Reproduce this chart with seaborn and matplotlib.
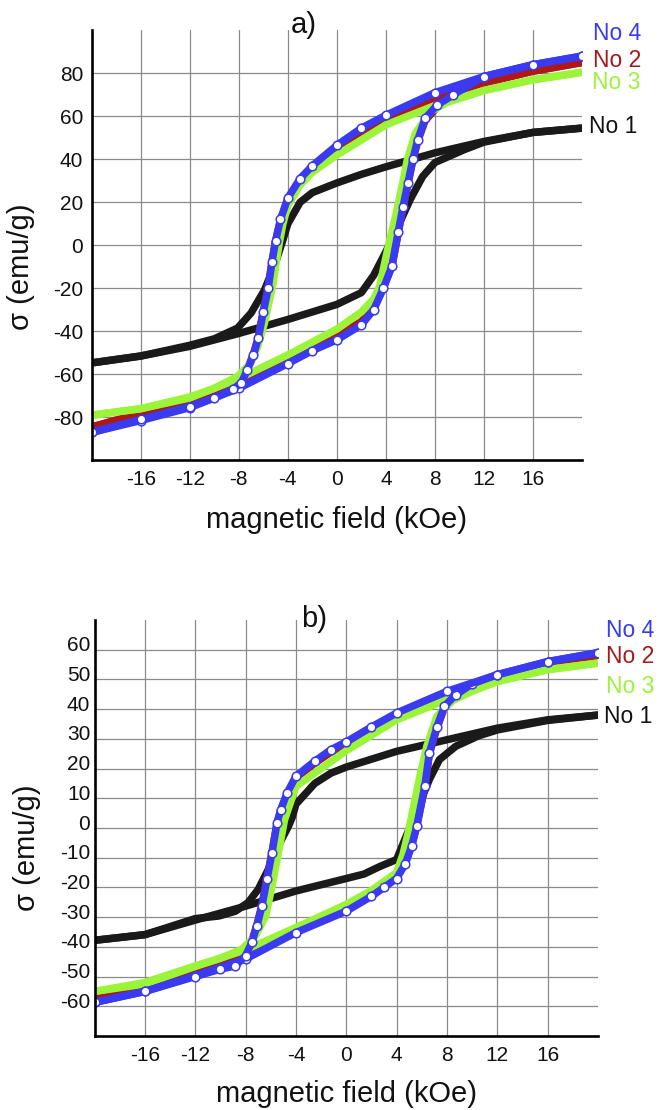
import numpy as np
import pandas as pd
import matplotlib
matplotlib.use("Agg")
import matplotlib.pyplot as plt
from matplotlib.transforms import ScaledTranslation
import seaborn as sns

# ---------------- data ----------------
SAMPLES = ["No 1", "No 2", "No 3", "No 4"]
COLORS = {"No 1": "#1a1a1a", "No 2": "#b01818", "No 3": "#9cf43a", "No 4": "#3a3af0"}
LABEL_COLORS = {"No 1": "#111111", "No 2": "#a01c1c", "No 3": "#9cf43a", "No 4": "#3a3af0"}

# panel a) -- upper (descending field) and lower (ascending field) branches
A_NO4_UP_H = [20, 16, 12, 8, 4, 2, 0, -2, -3, -4, -4.6, -5.0, -5.3, -5.6, -6.0, -6.4, -6.8, -7.3, -7.8, -8.5, -10, -12, -16, -20]
A_NO4_UP_S = [88, 84, 78.5, 71, 60.5, 54.5, 46.5, 37, 31, 22, 12, 2, -8, -20, -31, -43, -51, -58, -64, -67, -71, -75, -81, -87]
A_NO4_LO_H = [-20, -16, -12, -8, -4, -2, 0, 2, 3, 3.8, 4.5, 5.0, 5.4, 5.8, 6.2, 6.6, 7.2, 8.2, 9.5, 12, 16, 20]
A_NO4_LO_S = [-87, -81.5, -75.5, -66.5, -55, -49, -44, -37, -30, -20, -9.6, 6, 18, 29, 40, 49, 59, 65.3, 70, 78.5, 84, 88]

A_NO2_UP_H = [20, 16, 12, 8, 4, 2, 0, -2, -3, -4, -4.6, -5.0, -5.3, -5.6, -6.0, -6.4, -6.8, -7.3, -7.8, -8.5, -10, -12, -16, -20]
A_NO2_UP_S = [85, 81, 75.5, 68.5, 58.5, 52.5, 45, 36, 30, 21, 11.5, 2, -8, -19.5, -30.5, -42.5, -50.5, -57.5, -63, -65.5, -68.5, -72, -78, -84.5]
A_NO2_LO_H = [-20, -16, -12, -8, -4, -2, 0, 2, 3, 3.8, 4.5, 5.0, 5.4, 5.8, 6.2, 6.6, 7.2, 8.2, 9.5, 12, 16, 20]
A_NO2_LO_S = [-84.5, -78.5, -72, -63.5, -53, -47, -42, -35.5, -29, -19.5, -9.5, 5.5, 17.5, 28.5, 39.5, 48.5, 58, 64.3, 68.5, 75.5, 81, 85]

A_NO3_UP_H = [20, 16, 12, 8, 4, 2, 0, -2, -3, -4, -4.4, -4.7, -5.0, -5.2, -5.6, -5.9, -6.45, -7.0, -8.1, -10, -12, -16, -20]
A_NO3_UP_S = [80.5, 77, 72, 65, 56, 49, 42, 34, 28, 18.5, 10, 1, -10, -17.7, -28, -36, -47, -54.6, -61, -66.5, -70.5, -76, -79]
A_NO3_LO_H = [-20, -16, -12, -8, -4, -2, 0, 2, 3, 3.5, 3.85, 4.3, 4.8, 5.3, 5.75, 6.4, 7.6, 9, 10.4, 12, 16, 20]
A_NO3_LO_S = [-79, -76, -71, -62, -51, -45, -39, -31, -25, -19, -9.6, 2, 13.6, 27, 39.8, 52, 62, 66.5, 69, 72, 77, 80.5]

A_NO1_UP_H = [20, 16, 12, 8, 4, 2, 0, -2, -3, -4, -4.4, -5.0, -5.9, -7, -8.1, -10, -12, -16, -20]
A_NO1_UP_S = [54.5, 52.5, 48.3, 43, 36.5, 33, 29, 24.5, 20, 10, 2.5, -8, -20.8, -31.5, -38.5, -43.5, -46.5, -51.5, -54.7]
A_NO1_LO_H = [-20, -16, -12, -8, -4, -2, 0, 2, 3, 4, 5, 6, 7, 8, 10.4, 12, 16, 20]
A_NO1_LO_S = [-54.7, -51.5, -47, -41, -34.5, -31, -27.5, -22, -14, -3, 9, 21.5, 32, 38.5, 44.5, 48, 52.5, 54.5]

# panel b)
B_NO4_UP_H = [20, 16, 12, 8, 4, 2, 0, -1.2, -2.5, -4, -4.7, -5.2, -5.5, -5.9, -6.3, -6.7, -7.1, -7.5, -8.0, -8.8, -10, -12, -16, -20]
B_NO4_UP_S = [59, 56, 51.6, 46, 38.7, 34, 29, 26.4, 22.5, 17.4, 11.8, 6.2, 1.7, -8.4, -17.3, -26.3, -33, -38.5, -43, -46.4, -47.5, -50, -55, -58.7]
B_NO4_LO_H = [-20, -16, -12, -8, -4, 0, 2, 3, 4, 4.7, 5.2, 5.6, 6.24, 6.6, 7.2, 7.8, 8.7, 10, 12, 16, 20]
B_NO4_LO_S = [-58.7, -55, -49.7, -44.1, -35.2, -28, -23, -20, -17, -12, -6, 0.6, 14, 25.2, 34, 41, 44.8, 48.5, 51.6, 56, 59]

B_NO2_UP_H = [20, 16, 12, 8, 4, 2, 0, -1.2, -2.5, -4, -4.7, -5.2, -5.5, -5.9, -6.3, -6.7, -7.1, -7.5, -8.0, -8.8, -10, -12, -16, -20]
B_NO2_UP_S = [57.5, 54.5, 50.2, 44.8, 37.6, 33, 28.2, 25.6, 21.8, 16.9, 11.4, 6, 1.6, -8.3, -17.1, -26, -32.6, -38, -42.5, -45.6, -46.5, -48.6, -53.5, -56.8]
B_NO2_LO_H = [-20, -16, -12, -8, -4, 0, 2, 3, 4, 4.7, 5.2, 5.6, 6.24, 6.6, 7.2, 7.8, 8.7, 10, 12, 16, 20]
B_NO2_LO_S = [-56.8, -53.5, -48.3, -42.9, -34.2, -27.2, -22.4, -19.4, -16.5, -11.6, -5.8, 0.6, 13.8, 24.9, 33.6, 40.5, 44.2, 47.5, 50.2, 54.5, 57.5]

B_NO3_UP_H = [20, 16, 12, 8, 4, 0, -2, -4, -4.9, -5.4, -5.9, -6.4, -7.2, -8.3, -10.1, -12, -16, -20]
B_NO3_UP_S = [55.5, 53.3, 49.3, 43.2, 36.4, 26, 20, 14, 2.8, -8.4, -19.6, -29.6, -36.3, -40.8, -44, -46.4, -52, -55]
B_NO3_LO_H = [-20, -16, -12, -8, -4, 0, 2, 4, 4.5, 4.9, 5.3, 5.85, 6.4, 7.2, 8.5, 10, 12, 16, 20]
B_NO3_LO_S = [-55, -52.5, -46.6, -41, -33.5, -25.7, -21, -15, -9, -2, 6.2, 17.4, 27.5, 37.6, 43, 46, 49.3, 53.3, 55.5]

B_NO1_UP_H = [20, 16, 12, 8, 4, 0, -1.2, -2.5, -4, -4.3, -4.6, -5.4, -6.2, -7, -7.8, -8.8, -10.1, -12, -16, -20]
B_NO1_UP_S = [38, 36.4, 33.6, 29.7, 25.8, 20.5, 18.5, 15, 8, 3.5, 0.5, -6, -14, -20.7, -25.1, -28, -29.6, -30.5, -35.9, -37.8]
B_NO1_LO_H = [-20, -16, -12, -8, -4, 0, 1.4, 2.7, 4, 5.3, 6.6, 7.4, 8.7, 10.5, 12, 16, 20]
B_NO1_LO_S = [-37.8, -35.9, -31, -26.3, -21.2, -17, -15.5, -12.9, -10.6, 2.8, 16.3, 23, 27.5, 31, 33, 36.2, 38]

A_YTICKS = [-80, -60, -40, -20, 0, 20, 40, 60, 80]
B_YTICKS = [-60, -50, -40, -30, -20, -10, 0, 10, 20, 30, 40, 50, 60]
XTICKS = [-16, -12, -8, -4, 0, 4, 8, 12, 16]

PANEL_A = {
    "No 1": (A_NO1_UP_H, A_NO1_UP_S, A_NO1_LO_H, A_NO1_LO_S),
    "No 2": (A_NO2_UP_H, A_NO2_UP_S, A_NO2_LO_H, A_NO2_LO_S),
    "No 3": (A_NO3_UP_H, A_NO3_UP_S, A_NO3_LO_H, A_NO3_LO_S),
    "No 4": (A_NO4_UP_H, A_NO4_UP_S, A_NO4_LO_H, A_NO4_LO_S),
}
PANEL_B = {
    "No 1": (B_NO1_UP_H, B_NO1_UP_S, B_NO1_LO_H, B_NO1_LO_S),
    "No 2": (B_NO2_UP_H, B_NO2_UP_S, B_NO2_LO_H, B_NO2_LO_S),
    "No 3": (B_NO3_UP_H, B_NO3_UP_S, B_NO3_LO_H, B_NO3_LO_S),
    "No 4": (B_NO4_UP_H, B_NO4_UP_S, B_NO4_LO_H, B_NO4_LO_S),
}

# label anchor positions (data coords) for the right-hand sample names
A_LABEL_POS = {"No 4": (20.9, 98.5), "No 2": (20.9, 86.0), "No 3": (20.8, 75.5), "No 1": (20.6, 55.2)}
B_LABEL_POS = {"No 4": (20.6, 66.5), "No 2": (20.6, 57.8), "No 3": (20.6, 47.7), "No 1": (20.5, 37.6)}

# ---------------- style ----------------
sns.set_theme(style="white")
plt.rcParams["font.family"] = ["Liberation Sans", "DejaVu Sans"]
plt.rcParams["axes.unicode_minus"] = False

fig = plt.figure(figsize=(6.61, 11.10), dpi=100)
ax_a = fig.add_axes([91.7 / 661, (1110 - 460.3) / 1110, 490.3 / 661, 430 / 1110])
ax_b = fig.add_axes([94.5 / 661, (1110 - 1036) / 1110, 503.5 / 661, 416 / 1110])


def to_frame(panel):
    rows = []
    for name, (uh, us, lh, ls) in panel.items():
        for h, s in zip(uh, us):
            rows.append((name, "up", h, s))
        for h, s in zip(lh, ls):
            rows.append((name, "down", h, s))
    return pd.DataFrame(rows, columns=["sample", "branch", "H", "sigma"])


def draw(ax, panel, ylim, yticks, yminor, title, title_pos, label_pos, ytl_pad, ytl_shift):
    df = to_frame(panel)
    for name in SAMPLES:
        sub = df[df["sample"] == name]
        kw = dict(marker="o", ms=6.2, mfc="white", mec=COLORS[name], mew=1.1) if name == "No 4" else {}
        sns.lineplot(data=sub, x="H", y="sigma", units="branch", estimator=None,
                     sort=False, color=COLORS[name], lw=5.4, ax=ax, legend=False,
                     solid_capstyle="round", **kw)
    ax.set_xlim(-20, 20)
    ax.set_ylim(*ylim)
    ax.set_xticks(XTICKS)
    ax.set_xticks(np.arange(-18, 19, 4), minor=True)
    ax.set_yticks(yticks)
    ax.set_yticks(yminor, minor=True)
    ax.grid(True, which="major", color="#8a8a8a", lw=0.9)
    ax.set_axisbelow(True)
    for sp in ("top", "right"):
        ax.spines[sp].set_visible(False)
    for sp in ("left", "bottom"):
        ax.spines[sp].set_color("black")
        ax.spines[sp].set_linewidth(1.9)
    ax.tick_params(axis="both", which="major", direction="in", length=5, width=1.5,
                   color="black", labelsize=15, labelcolor="#111111")
    ax.tick_params(axis="both", which="minor", direction="in", length=3, width=1.3,
                   color="black")
    ax.tick_params(axis="x", which="major", pad=7)
    ax.tick_params(axis="y", which="major", pad=ytl_pad)
    ax.set_xlabel("magnetic field (kOe)", fontsize=21, va="center", color="#111111")
    ax.set_ylabel("σ (emu/g)", fontsize=21, va="center", color="#111111")
    ax.xaxis.set_label_coords(0.5, -0.14)
    ax.text(title_pos[0], title_pos[1], title, transform=ax.transAxes, fontsize=21,
            ha="center", va="center", color="#111111")
    for name, (hx, sy) in label_pos.items():
        ax.text(hx, sy, name, color=LABEL_COLORS[name], fontsize=16.5, ha="left",
                va="center", clip_on=False)
    if ytl_shift:
        off = ScaledTranslation(0, ytl_shift / 100.0, fig.dpi_scale_trans)
        for lab in ax.get_yticklabels():
            lab.set_transform(lab.get_transform() + off)


draw(ax_a, PANEL_A, (-100, 100), A_YTICKS, np.arange(-90, 91, 20), "a)",
     (0.433, 1.013), A_LABEL_POS, 6, 0)
ax_a.yaxis.set_label_coords(-0.145, 0.451)

draw(ax_b, PANEL_B, (-70, 70), B_YTICKS, np.arange(-65, 66, 10), "b)",
     (0.436, 1.003), B_LABEL_POS, 3, 6)
ax_b.yaxis.set_label_coords(-0.135, 0.452)

fig.savefig("out.png", dpi=100)
